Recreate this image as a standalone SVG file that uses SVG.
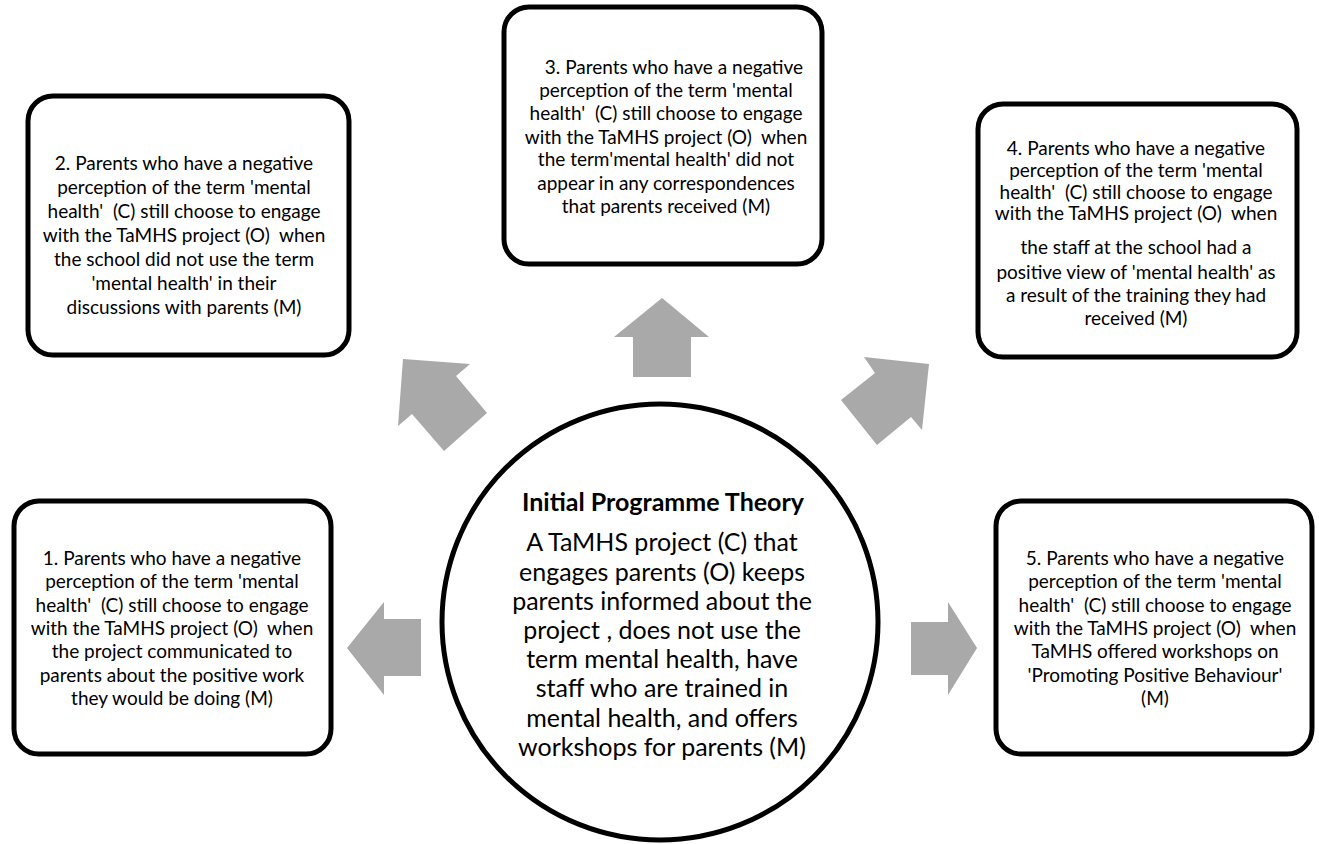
<svg xmlns="http://www.w3.org/2000/svg" width="1319" height="844" viewBox="0 0 1319 844" xml:space="preserve">
<style>
.box{fill:#fff;stroke:#000;stroke-width:5}
.arr{fill:#a9a9a9;stroke:none}
text{white-space:pre}
.t{font-family:Lato,"Open Sans",sans-serif;font-size:19px;fill:#000;text-anchor:middle}
.c{font-family:Lato,"Open Sans",sans-serif;font-size:25px;fill:#000;text-anchor:middle}
.h{font-family:Lato,"Open Sans",sans-serif;font-size:25px;font-weight:bold;fill:#000;text-anchor:middle}
</style>
<rect width="1319" height="844" fill="#fff"/>
<g id="connectors">
<polygon class="arr" points="662,298 709,337 691,337 691,377 633,377 633,337 614,337"/>
<polygon class="arr" points="403,359 470,364 456,376 487,413 444,451 412,414 398,426"/>
<polygon class="arr" points="864,357 929,364 922,430 911,417 877,445 841,400 875,373"/>
<polygon class="arr" points="347,648 384,602 384,619 421,619 421,676 384,676 384,695"/>
<polygon class="arr" points="977,648 948,602 948,622 911,622 911,675 948,675 948,695"/>
</g>
<g id="center">
<circle cx="660" cy="622" r="218" fill="#fff" stroke="#000" stroke-width="5"/>
<text class="h" x="663" y="511">Initial Programme Theory</text>
<text class="c" x="662" y="551">A TaMHS project (C) that</text>
<text class="c" x="662" y="581">engages parents (O) keeps</text>
<text class="c" x="662" y="610">parents informed about the</text>
<text class="c" x="662" y="639">project , does not use the</text>
<text class="c" x="662" y="668">term mental health, have</text>
<text class="c" x="662" y="697">staff who are trained in</text>
<text class="c" x="662" y="727">mental health, and offers</text>
<text class="c" x="662" y="756">workshops for parents (M)</text>
</g>
<g id="node1">
<rect class="box" x="14" y="501" width="317" height="253" rx="25"/>
<text class="t" x="172" y="565">1. Parents who have a negative</text>
<text class="t" x="172" y="588">perception of the term 'mental</text>
<text class="t" x="172" y="612">health'  (C) still choose to engage</text>
<text class="t" x="172" y="635">with the TaMHS project (O)  when</text>
<text class="t" x="172" y="658">the project communicated to</text>
<text class="t" x="172" y="682">parents about the positive work</text>
<text class="t" x="172" y="705">they would be doing (M)</text>
</g>
<g id="node2">
<rect class="box" x="28" y="96" width="321" height="259" rx="25"/>
<text class="t" x="184" y="170">2. Parents who have a negative</text>
<text class="t" x="184" y="194">perception of the term 'mental</text>
<text class="t" x="184" y="218">health'  (C) still choose to engage</text>
<text class="t" x="184" y="242">with the TaMHS project (O)  when</text>
<text class="t" x="184" y="266">the school did not use the term</text>
<text class="t" x="184" y="290">'mental health' in their</text>
<text class="t" x="184" y="314">discussions with parents (M)</text>
</g>
<g id="node3">
<rect class="box" x="504" y="7" width="318" height="257" rx="25"/>
<text class="t" x="674" y="74">3. Parents who have a negative</text>
<text class="t" x="666" y="97">perception of the term 'mental</text>
<text class="t" x="666" y="120">health'  (C) still choose to engage</text>
<text class="t" x="666" y="144">with the TaMHS project (O)  when</text>
<text class="t" x="666" y="166">the term'mental health' did not</text>
<text class="t" x="666" y="190">appear in any correspondences</text>
<text class="t" x="666" y="213">that parents received (M)</text>
</g>
<g id="node4">
<rect class="box" x="978" y="104" width="319" height="253" rx="25"/>
<text class="t" x="1136" y="155">4. Parents who have a negative</text>
<text class="t" x="1136" y="177">perception of the term 'mental</text>
<text class="t" x="1136" y="199">health'  (C) still choose to engage</text>
<text class="t" x="1136" y="220">with the TaMHS project (O)  when</text>
<text class="t" x="1136" y="254">the staff at the school had a</text>
<text class="t" x="1136" y="279">positive view of 'mental health' as</text>
<text class="t" x="1136" y="302">a result of the training they had</text>
<text class="t" x="1136" y="325">received (M)</text>
</g>
<g id="node5">
<rect class="box" x="996" y="501" width="316" height="253" rx="25"/>
<text class="t" x="1155" y="565">5. Parents who have a negative</text>
<text class="t" x="1155" y="588">perception of the term 'mental</text>
<text class="t" x="1155" y="612">health'  (C) still choose to engage</text>
<text class="t" x="1155" y="635">with the TaMHS project (O)  when</text>
<text class="t" x="1155" y="658">TaMHS offered workshops on</text>
<text class="t" x="1155" y="682">'Promoting Positive Behaviour'</text>
<text class="t" x="1155" y="705">(M)</text>
</g>
</svg>
